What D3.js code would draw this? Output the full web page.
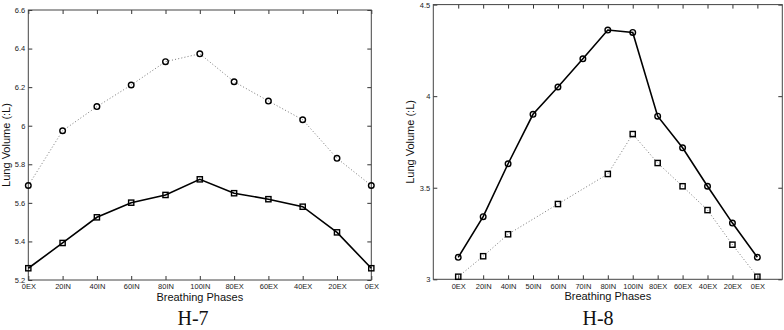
<!DOCTYPE html>
<html>
<head>
<meta charset="utf-8">
<script src="https://cdn.jsdelivr.net/npm/d3@7"></script>
<style>
  body { margin: 0; background: #fff; }
  svg { display: block; }
  .tick text { font-family: "Liberation Sans", Arial, sans-serif; font-size: 7.5px; fill: #222; }
  .label { font-family: "Liberation Sans", Arial, sans-serif; font-size: 11px; fill: #111; }
  .caption { font-family: "Liberation Serif", "Times New Roman", serif; font-size: 20px; fill: #111; }
</style>
</head>
<body>
<svg id="chart" width="784" height="330"></svg>
<script>
// H-7 panel
const phasesH7 = ["0EX", "20IN", "40IN", "60IN", "80IN", "100IN", "80EX", "60EX", "40EX", "20EX", "0EX"];
const circlesH7 = [5.69, 5.974, 6.099, 6.211, 6.332, 6.373, 6.228, 6.128, 6.031, 5.831, 5.69];
const squaresH7 = [5.261, 5.392, 5.525, 5.601, 5.641, 5.722, 5.650, 5.619, 5.580, 5.447, 5.261];
const yTicksH7 = [5.2, 5.4, 5.6, 5.8, 6, 6.2, 6.4, 6.6];

// H-8 panel (squares missing at 50IN and 70IN)
const phasesH8 = ["0EX", "20IN", "40IN", "50IN", "60IN", "70IN", "80IN", "100IN", "80EX", "60EX", "40EX", "20EX", "0EX"];
const circlesH8 = [3.12, 3.342, 3.631, 3.901, 4.05, 4.204, 4.361, 4.348, 3.891, 3.718, 3.508, 3.307, 3.12];
const squaresH8 = [3.014, 3.126, 3.246, null, 3.411, null, 3.575, 3.793, 3.635, 3.508, 3.378, 3.189, 3.014];
const yTicksH8 = [3, 3.5, 4, 4.5];

const svg = d3.select("#chart");

function drawPanel(cfg) {
    let g = svg.append("g");
    let n = cfg.phases.length;

    let x = d3.scalePoint()
        .domain(d3.range(n))
        .range([cfg.left, cfg.right])
        .padding(cfg.padding);
    let y = d3.scaleLinear()
        .domain(cfg.yDomain)
        .range([cfg.bottom, cfg.top]);

    let fmt = d => String(+d.toFixed(1));

    // axes, ticks pointing inward
    g.append("g")
        .attr("transform", `translate(0,${cfg.bottom})`)
        .call(d3.axisBottom(x).tickSize(-4).tickPadding(4).tickFormat(i => cfg.phases[i]));
    g.append("g")
        .attr("transform", `translate(0,${cfg.top})`)
        .call(d3.axisTop(x).tickSize(-4).tickFormat(""));
    g.append("g")
        .attr("transform", `translate(${cfg.left},0)`)
        .call(d3.axisLeft(y).tickValues(cfg.yTicks).tickSize(-4).tickPadding(3).tickFormat(fmt));
    g.append("g")
        .attr("transform", `translate(${cfg.right},0)`)
        .call(d3.axisRight(y).tickValues(cfg.yTicks).tickSize(-4).tickFormat(""));

    g.selectAll(".domain").remove();
    g.selectAll(".tick line").attr("stroke", "#333");

    g.append("rect")
        .attr("x", cfg.left)
        .attr("y", cfg.top)
        .attr("width", cfg.right - cfg.left)
        .attr("height", cfg.bottom - cfg.top)
        .attr("fill", "none")
        .attr("stroke", "#444")
        .attr("stroke-width", 1);

    let line = d3.line()
        .x(d => x(d.i))
        .y(d => y(d.v));

    cfg.series.forEach(s => {
        let pts = s.values.map((v, i) => ({ i: i, v: v })).filter(d => d.v != null);

        g.append("path")
            .datum(pts)
            .attr("d", line)
            .attr("fill", "none")
            .attr("stroke", s.dotted ? "#777" : "#000")
            .attr("stroke-width", s.dotted ? 1 : 1.6)
            .attr("stroke-dasharray", s.dotted ? "1,2.2" : null);

        if (s.marker === "circle") {
            g.selectAll(null)
                .data(pts)
                .enter().append("circle")
                .attr("cx", d => x(d.i))
                .attr("cy", d => y(d.v))
                .attr("r", 2.8)
                .attr("fill", "none")
                .attr("stroke", "#000")
                .attr("stroke-width", 1.4);
        } else {
            g.selectAll(null)
                .data(pts)
                .enter().append("rect")
                .attr("x", d => x(d.i) - 2.6)
                .attr("y", d => y(d.v) - 2.6)
                .attr("width", 5.2)
                .attr("height", 5.2)
                .attr("fill", "none")
                .attr("stroke", "#000")
                .attr("stroke-width", 1.4);
        }
    });

    // labels
    g.append("text")
        .attr("class", "label")
        .attr("x", (cfg.left + cfg.right) / 2)
        .attr("y", cfg.bottom + 20.5)
        .attr("text-anchor", "middle")
        .text("Breathing Phases");
    g.append("text")
        .attr("class", "label")
        .attr("transform", `translate(${cfg.yLabelX},${(cfg.top + cfg.bottom) / 2}) rotate(-90)`)
        .attr("text-anchor", "middle")
        .text("Lung Volume (:L)");
    g.append("text")
        .attr("class", "caption")
        .attr("x", cfg.captionX)
        .attr("y", 325)
        .attr("text-anchor", "middle")
        .text(cfg.caption);
}

drawPanel({
    phases: phasesH7, yDomain: [5.2, 6.6], yTicks: yTicksH7,
    left: 28.3, right: 371.3, top: 10, bottom: 280, padding: 0,
    yLabelX: 10, captionX: 193, caption: "H-7",
    series: [
        { values: circlesH7, marker: "circle", dotted: true },
        { values: squaresH7, marker: "square", dotted: false }
    ]
});

drawPanel({
    phases: phasesH8, yDomain: [3, 4.5], yTicks: yTicksH8,
    left: 433.3, right: 782.3, top: 4.6, bottom: 279.3, padding: 1,
    yLabelX: 414, captionX: 598, caption: "H-8",
    series: [
        { values: circlesH8, marker: "circle", dotted: false },
        { values: squaresH8, marker: "square", dotted: true }
    ]
});
</script>
</body>
</html>
